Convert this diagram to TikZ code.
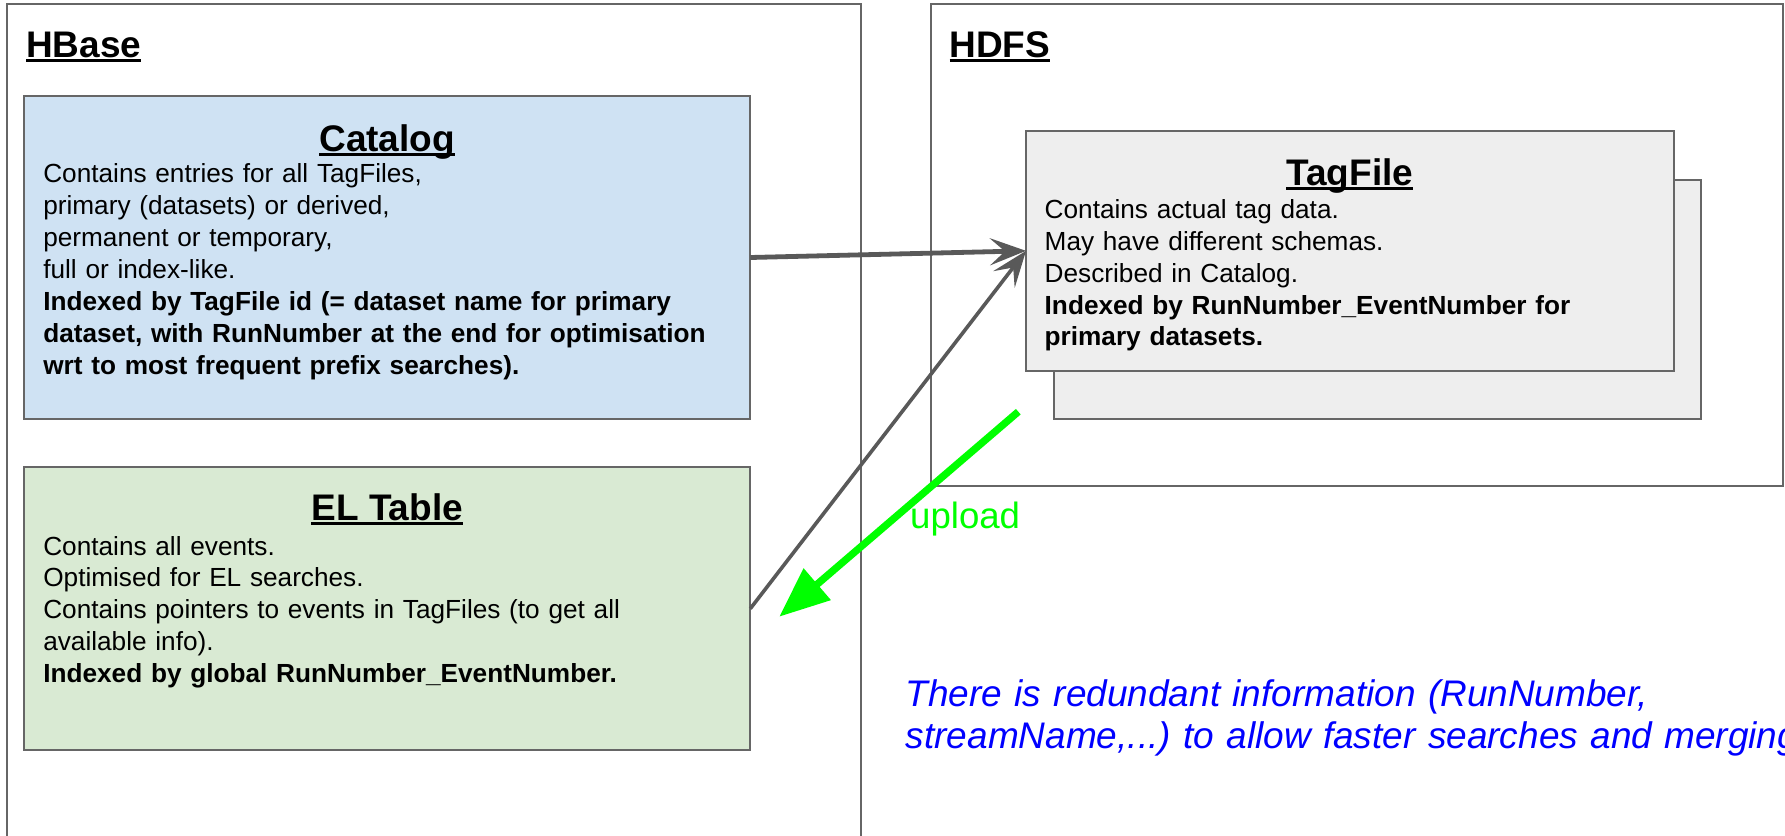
\documentclass[tikz,border=0pt]{standalone}
\usepackage{fontspec}
\setmainfont{Liberation Sans}
\usetikzlibrary{arrows.meta,calc}
\definecolor{catfill}{HTML}{CFE2F3}
\definecolor{elfill}{HTML}{D9EAD3}
\definecolor{tagfill}{HTML}{EEEEEE}
\definecolor{edgegray}{HTML}{666666}
\definecolor{arrowgray}{HTML}{595959}
\definecolor{upgreen}{HTML}{00FF00}
\definecolor{noteblue}{HTML}{0000FF}
\newcommand\titleul[1]{\setbox0=\hbox{#1}\rlap{\rule[-4.5pt]{\wd0}{2.8pt}}\box0}
\newcommand\titlefont{\fontsize{37}{44}\selectfont\bfseries}
\newcommand\bodyfont{\fontsize{26.2}{31.9}\selectfont}
\frenchspacing
\begin{document}
\begin{tikzpicture}[x=1pt,y=-1pt,
  frame/.style={draw=edgegray, line width=1.8pt, anchor=north west, inner sep=0pt, outer sep=0pt},
  box/.style={draw=edgegray, line width=2pt, anchor=north west, inner sep=0pt, outer sep=0pt},
  boxtitle/.style={anchor=base, inner sep=0pt, font=\titlefont},
  frametitle/.style={anchor=base west, inner sep=0pt, font=\titlefont},
  boxbody/.style={anchor=base west, inner sep=0pt, align=left, font=\bodyfont},
  link/.style={draw=arrowgray, -{Stealth[length=36pt,width=27pt,inset=15pt]}},
  uparrow/.style={draw=upgreen, line width=7.3pt, -{Triangle[length=50pt,width=40pt]}}
]
\useasboundingbox (0,0) rectangle (1785,835);
\fill[white] (0,0) rectangle (1785,835);
\clip (0,0) rectangle (1785,835);

% containers
\node[frame, minimum width=854pt, minimum height=900pt] (hbase) at (7,4) {};
\node[frame, minimum width=852pt, minimum height=482pt] (hdfs) at (931,4) {};
\node[frametitle] (hbasetitle) at (25.8,57.3) {\titleul{HBase}};
\node[frametitle] (hdfstitle) at (949.3,57.3) {\titleul{HDFS}};

% Catalog
\node[box, fill=catfill, minimum width=726.2pt, minimum height=323.6pt] (catalog) at (24.1,95.7) {};
\node[boxtitle] (cattitle) at ($(catalog.north)+(0,55.5)$) {\titleul{Catalog}};
\node[boxbody, text width=700pt] (catbody) at ($(catalog.north west)+(19,87)$)
 {Contains entries for all TagFiles,\\
  primary (datasets) or derived,\\
  permanent or temporary,\\
  full or index-like.\\
  \bfseries Indexed by TagFile id (= dataset name for primary\\
  dataset, with RunNumber at the end for optimisation\\
  wrt to most frequent prefix searches).};

% EL Table
\node[box, fill=elfill, minimum width=726.2pt, minimum height=282.7pt] (eltable) at (24.1,467.3) {};
\node[boxtitle] (eltitle) at ($(eltable.north)+(0,53)$) {\titleul{EL Table}};
\node[boxbody, text width=700pt] (elbody) at ($(eltable.north west)+(19,87.7)$)
 {Contains all events.\\
  Optimised for EL searches.\\
  Contains pointers to events in TagFiles (to get all\\
  available info).\\
  \bfseries Indexed by global RunNumber\_EventNumber.};

% TagFile
\node[box, fill=tagfill, minimum width=647pt, minimum height=239.3pt] (tagback) at (1053.7,180) {};
\node[box, fill=tagfill, minimum width=647.6pt, minimum height=239.7pt] (tagfile) at (1026,131) {};
\node[boxtitle] (tagtitle) at ($(tagfile.north)+(0,54)$) {\titleul{TagFile}};
\node[boxbody, text width=620pt] (tagbody) at ($(tagfile.north west)+(18.5,87.3)$)
 {Contains actual tag data.\\
  May have different schemas.\\
  Described in Catalog.\\
  \bfseries Indexed by RunNumber\_EventNumber for\\
  primary datasets.};

% connectors
\draw[link, line width=4.8pt] (catalog.east) -- (tagfile.west);
\draw[link, line width=3.6pt] (eltable.east) -- (tagfile.west);

\coordinate (upstart) at (1018.3,411.7);
\coordinate (upend) at (779.3,616.7);
\draw[uparrow] (upstart) -- (upend);
\node[anchor=base west, inner sep=0pt, text=upgreen, font=\fontsize{36.6}{43}\selectfont] (uplabel) at (910,528.3) {upload};

% note
\node[anchor=base west, inner sep=0pt, align=left, text width=1100pt, text=noteblue, font=\fontsize{37}{42.3}\selectfont\itshape] (note) at (905.6,706)
 {There is redundant information (RunNumber,\\
  streamName,...) to allow faster searches and merging};
\end{tikzpicture}
\end{document}
